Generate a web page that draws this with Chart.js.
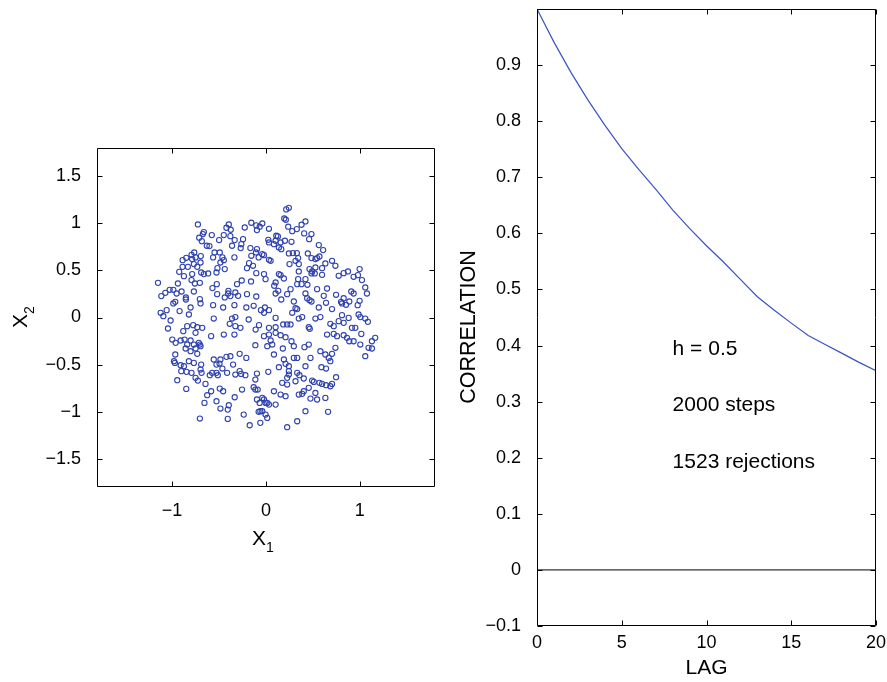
<!DOCTYPE html>
<html>
<head>
<meta charset="utf-8">
<script src="https://cdn.jsdelivr.net/npm/chart.js@4.4.1/dist/chart.umd.min.js"></script>
<style>
  body { margin: 0; background: #fff; }
  #wrap { position: relative; width: 887px; height: 682px; font-family: "Liberation Sans", Arial, Helvetica, sans-serif; }
  canvas { position: absolute; top: 0; }
  .lbl { position: absolute; font-size: 21px; line-height: 30px; height: 30px; color: #000; white-space: nowrap; }
  .lbl sub { font-size: 14px; vertical-align: -7px; line-height: 0; }
</style>
</head>
<body>
<div id="wrap">
  <canvas id="scatterChart" width="440" height="560" style="left:0"></canvas>
  <canvas id="corrChart" width="447" height="682" style="left:440px"></canvas>
  <div class="lbl" style="left:252px; top:523px;">X<sub>1</sub></div>
  <div class="lbl" style="left:0; top:302px; width:40px; text-align:center; transform:rotate(-90deg);">X<sub>2</sub></div>
  <div class="lbl" style="left:368px; top:312px; width:200px; text-align:center; font-size:21.5px; transform:rotate(-90deg);">CORRELATION</div>
</div>
<script>
// Samples (x1, x2)
const samples = [
  [-0.725,0.988],[-0.396,0.988],[-0.421,0.953],[-0.375,0.932],[-0.662,0.907],[-0.672,0.886],[-0.577,0.875],[-0.226,0.956],
  [-0.156,1.006],[-0.103,0.978],[-0.067,0.964],[-0.096,0.928],[-0.711,0.847],[-0.683,0.811],[-0.499,0.822],[-0.449,0.875],
  [-0.379,0.864],[-0.333,0.822],[-0.244,0.832],[-0.262,0.779],[-0.269,0.737],[-0.361,0.762],[-0.630,0.762],[-0.602,0.758],
  [-0.166,0.737],[-0.096,0.726],[-0.106,0.691],[-0.548,0.691],[-0.492,0.691],[-0.563,0.638],[-0.464,0.638],[-0.449,0.609],
  [-0.336,0.638],[-0.764,0.691],[-0.793,0.666],[-0.694,0.652],[-0.750,0.638],[-0.888,0.609],[-0.849,0.634],[-0.786,0.620],
  [-0.078,0.638],[-0.156,0.655],[-0.485,0.584],[-0.697,0.584],[-0.768,0.567],[-0.732,0.538],[-0.832,0.538],[-0.888,0.538],
  [-0.924,0.485],[-0.874,0.439],[-0.786,0.461],[-0.690,0.478],[-0.662,0.461],[-0.616,0.468],[-0.527,0.478],[-0.517,0.524],
  [-0.439,0.514],[-0.180,0.577],[-0.202,0.524],[-0.138,0.549],[-0.103,0.471],[-0.258,0.393],[-0.308,0.354],[-0.159,0.383],
  [-1.150,0.368],[-0.938,0.361],[-0.793,0.397],[-0.757,0.361],[-0.704,0.368],[-0.570,0.312],[-0.524,0.354],[-0.987,0.294],
  [-1.072,0.262],[-1.026,0.294],[-1.115,0.227],[-0.952,0.255],[-0.899,0.276],[-0.768,0.276],[-0.853,0.213],[-0.853,0.191],
  [-0.704,0.195],[-0.400,0.283],[-0.403,0.255],[-0.379,0.227],[-0.326,0.266],[-0.297,0.230],[-0.202,0.248],[-0.103,0.223],
  [-0.520,0.248],[-0.439,0.213],[-0.987,0.149],[-0.966,0.166],[-0.697,0.149],[-0.803,0.106],[-0.563,0.131],[-0.456,0.106],
  [-0.336,0.131],[-0.209,0.106],[-0.131,0.124],[-0.053,0.078],[-1.058,0.078],[-0.920,0.068],
  [0.216,1.148],[0.244,1.165],[0.195,1.052],[0.212,1.038],[0.421,1.020],[0.379,0.985],[0.237,0.964],[0.280,0.917],
  [0.329,0.939],[-0.039,0.999],[0.032,0.942],[0.407,0.893],[0.485,0.886],[0.460,0.832],[0.025,0.825],[0.032,0.797],
  [0.110,0.868],[0.127,0.861],[0.103,0.815],[0.156,0.797],[0.202,0.815],[0.272,0.804],[0.138,0.744],[0.163,0.726],
  [0.085,0.779],[-0.039,0.673],[-0.021,0.662],[0.244,0.680],[0.287,0.684],[0.329,0.684],[0.343,0.631],[0.315,0.602],
  [0.251,0.567],[0.350,0.567],[0.446,0.680],[0.485,0.631],[0.563,0.769],[0.609,0.716],[0.545,0.631],[0.570,0.648],
  [0.527,0.620],[0.633,0.574],[0.704,0.602],[0.740,0.549],[0.032,0.613],[0.050,0.602],[0.464,0.514],[0.492,0.489],
  [0.520,0.468],[0.485,0.468],[0.527,0.531],[0.598,0.524],[0.598,0.453],[0.350,0.489],[0.421,0.407],[0.343,0.407],
  [0.333,0.354],[0.379,0.354],[0.442,0.347],[0.138,0.461],[0.156,0.450],[0.191,0.414],[0.103,0.372],[0.088,0.337],
  [0.131,0.283],[0.103,0.255],[-0.021,0.461],[-0.004,0.407],[0.775,0.443],[0.828,0.471],[0.874,0.489],[0.934,0.432],
  [0.980,0.450],[0.998,0.514],[1.023,0.397],[1.058,0.319],[1.076,0.255],[0.909,0.276],[0.934,0.255],[0.998,0.177],
  [0.977,0.131],[0.747,0.241],[0.800,0.166],[0.828,0.205],[0.810,0.149],[0.888,0.170],[0.853,0.135],[0.651,0.308],
  [0.616,0.230],[0.545,0.301],[0.421,0.255],[0.439,0.205],[0.464,0.184],[0.485,0.170],[0.226,0.248],[0.262,0.301],
  [0.163,0.191],[0.297,0.170],[0.315,0.099],[0.333,0.089],[0.640,0.156],[0.704,0.089],[0.563,0.106],[0.032,0.078],
  [-0.011,0.106],
  [-1.122,0.050],[-1.093,0.014],[-1.016,-0.032],[-1.044,-0.117],[-0.821,0.032],[-0.556,-0.011],[-0.361,-0.011],[-0.326,0.004],
  [-0.386,-0.067],[-0.326,-0.092],[-0.272,-0.110],[-0.184,-0.021],[-0.074,-0.081],[-0.110,-0.128],[-0.881,-0.145],[-0.839,-0.092],
  [-0.775,-0.081],[-0.732,-0.103],[-0.679,-0.110],[-0.750,-0.163],[-0.449,-0.181],[-0.336,-0.181],[-0.584,-0.198],[-0.998,-0.234],
  [-0.962,-0.269],[-0.909,-0.244],[-0.867,-0.234],[-0.803,-0.244],[-0.839,-0.287],[-0.768,-0.287],[-0.715,-0.269],[-0.704,-0.287],
  [-0.697,-0.305],[-0.856,-0.329],[-0.803,-0.358],[-0.732,-0.386],[-0.750,-0.329],[-0.113,-0.294],[-0.966,-0.393],[-0.980,-0.464],
  [-0.970,-0.482],[-0.909,-0.507],[-0.874,-0.517],[-0.821,-0.464],[-0.768,-0.482],[-0.690,-0.500],[-0.556,-0.446],[-0.485,-0.446],
  [-0.421,-0.418],[-0.379,-0.411],[-0.495,-0.489],[-0.527,-0.500],[-0.464,-0.542],[-0.350,-0.500],[-0.280,-0.386],[-0.209,-0.429],
  [-0.902,-0.570],[-0.846,-0.577],[-0.793,-0.588],[-0.697,-0.553],[-0.686,-0.588],[-0.750,-0.641],[-0.725,-0.670],[-0.945,-0.666],
  [-0.644,-0.705],[-0.598,-0.613],[-0.573,-0.588],[-0.527,-0.588],[-0.513,-0.613],[-0.414,-0.588],[-0.326,-0.606],[-0.280,-0.570],
  [-0.265,-0.599],[-0.219,-0.613],[-0.096,-0.595],[-0.113,-0.659],[-0.131,-0.740],[-0.113,-0.765],[-0.088,-0.765],[-0.255,-0.765],
  [-0.849,-0.758],[-0.584,-0.783],[-0.492,-0.755],[-0.456,-0.783],[-0.626,-0.825],[-0.655,-0.907],[-0.527,-0.889],[-0.396,-0.932],
  [-0.407,-0.978],[-0.485,-0.967],[-0.333,-0.847],[-0.096,-0.871],[-0.067,-0.907],[-0.060,-0.995],[-0.078,-1.002],[-0.704,-1.073],
  [-0.407,-1.077],[-0.237,-1.031],[-0.173,-1.144],[-0.060,-1.119],
  [-0.021,0.050],[0.103,-0.004],[0.280,0.050],[0.350,-0.011],[0.386,0.004],[0.527,-0.011],[0.580,0.004],[0.810,0.025],
  [0.881,-0.004],[0.987,0.032],[1.005,0.004],[1.058,-0.011],[1.086,-0.046],[0.184,-0.074],[0.226,-0.074],[0.262,-0.074],
  [0.032,-0.110],[0.103,-0.103],[0.456,-0.103],[0.467,-0.120],[0.686,-0.067],[0.722,-0.092],[0.775,-0.039],[0.828,-0.057],
  [0.916,-0.110],[0.952,-0.110],[0.651,-0.181],[0.722,-0.174],[0.757,-0.198],[0.828,-0.188],[0.863,-0.216],[0.888,-0.252],
  [0.934,-0.252],[1.016,-0.174],[1.129,-0.252],[1.164,-0.216],[1.005,-0.287],[1.093,-0.322],[1.129,-0.329],[1.058,-0.411],
  [-0.021,-0.198],[0.032,-0.181],[0.103,-0.163],[0.156,-0.188],[0.209,-0.209],[0.050,-0.244],[0.014,-0.305],[0.067,-0.287],
  [0.180,-0.329],[0.272,-0.252],[0.297,-0.305],[0.333,-0.429],[0.297,-0.429],[0.410,-0.315],[0.456,-0.287],[0.580,-0.358],
  [0.633,-0.393],[0.669,-0.429],[0.686,-0.464],[0.704,-0.386],[0.740,-0.322],[0.085,-0.393],[0.191,-0.446],[0.209,-0.492],
  [0.244,-0.517],[0.025,-0.577],[0.138,-0.528],[0.244,-0.570],[0.244,-0.606],[0.226,-0.641],[0.173,-0.694],[0.226,-0.712],
  [0.315,-0.677],[0.333,-0.588],[0.357,-0.613],[0.403,-0.648],[0.421,-0.517],[0.474,-0.429],[0.591,-0.528],[0.640,-0.542],
  [0.747,-0.634],[0.492,-0.670],[0.510,-0.684],[0.570,-0.694],[0.598,-0.705],[0.640,-0.719],[0.686,-0.730],[0.704,-0.705],
  [0.456,-0.747],[0.527,-0.801],[0.633,-0.854],[0.545,-0.871],[0.474,-0.861],[0.403,-0.783],[0.386,-0.811],[0.350,-0.818],
  [0.085,-0.783],[0.156,-0.818],[0.209,-0.836],[-0.039,-0.854],[-0.021,-0.871],[-0.004,-0.907],[0.014,-0.907],[0.032,-0.925],
  [0.103,-0.925],[-0.039,-0.995],[-0.004,-1.031],[0.014,-1.066],[0.421,-0.995],[0.333,-1.102],[0.226,-1.165],[0.662,-1.002]
];

// Autocorrelation vs lag (right panel)
const lags = [0, 1, 2, 3, 4, 5, 6, 7, 8, 9, 10, 11, 12, 13, 14, 15, 16, 17, 18, 19, 20];
const correlation = [1.0, 0.941, 0.887, 0.838, 0.793, 0.751, 0.714, 0.679, 0.642, 0.609, 0.578,
                     0.549, 0.518, 0.487, 0.463, 0.440, 0.418, 0.402, 0.386, 0.370, 0.355];
const zeroLine = [0, 0];
const zeroLags = [0, 20];

// Text notes in data coords
const notes = ['h = 0.5', '2000 steps', '1523 rejections'];
const noteLag = 8;
const noteY = [0.4, 0.3, 0.2];

const FONT = '"Liberation Sans", Arial, Helvetica, sans-serif';
const BLUE = '#2f42ae';
Chart.defaults.color = '#000';
Chart.defaults.font.family = FONT;
Chart.defaults.font.size = 18;

function fmt(v) {
    return Number(v.toFixed(1)).toString().replace('-', '\u2212');
}

// box round the plot area with inward ticks on all sides
const boxTicks = {
    id: 'boxTicks',
    afterDraw(chart) {
        const {ctx, chartArea: a, scales} = chart;
        const L = Math.round(a.left) + 0.5, R = Math.round(a.right) - 0.5;
        const T = Math.round(a.top) + 0.5, B = Math.round(a.bottom) - 0.5;
        ctx.save();
        ctx.strokeStyle = '#000';
        ctx.lineWidth = 1;
        ctx.beginPath();
        ctx.rect(L, T, R - L, B - T);
        scales.x.ticks.forEach(t => {
            const px = Math.round(scales.x.getPixelForValue(t.value)) + 0.5;
            ctx.moveTo(px, B); ctx.lineTo(px, B - 5);
            ctx.moveTo(px, T); ctx.lineTo(px, T + 5);
        });
        scales.y.ticks.forEach(t => {
            const py = Math.round(scales.y.getPixelForValue(t.value)) + 0.5;
            ctx.moveTo(L, py); ctx.lineTo(L + 5, py);
            ctx.moveTo(R, py); ctx.lineTo(R - 5, py);
        });
        ctx.stroke();
        ctx.restore();
    }
};

const notesPlugin = {
    id: 'notes',
    afterDatasetsDraw(chart) {
        const {ctx, scales} = chart;
        ctx.save();
        ctx.font = '21px ' + FONT;
        ctx.fillStyle = '#000';
        ctx.textBaseline = 'middle';
        notes.forEach((t, i) => {
            ctx.fillText(t, scales.x.getPixelForValue(noteLag), scales.y.getPixelForValue(noteY[i]) + 4);
        });
        ctx.restore();
    }
};

function axis(min, max, step, pad, extra) {
    return Object.assign({
        type: 'linear',
        min: min,
        max: max,
        grid: { display: false },
        border: { display: false },
        ticks: {
            stepSize: step,
            includeBounds: false,
            autoSkip: false,
            maxRotation: 0,
            padding: pad,
            callback: v => fmt(v)
        }
    }, extra);
}

function fixSize(w, h) {
    return function (scale) {
        if (w !== null) scale.width = w;
        if (h !== null) scale.height = h;
        scale.paddingLeft = 0; scale.paddingRight = 0;
        scale.paddingTop = 0; scale.paddingBottom = 0;
    };
}

// Left: scatter of samples
new Chart(document.getElementById('scatterChart'), {
    type: 'scatter',
    data: {
        datasets: [{
            data: samples.map(p => ({ x: p[0], y: p[1] })),
            pointStyle: 'circle',
            pointRadius: 2.6,
            borderWidth: 1.1,
            borderColor: BLUE,
            backgroundColor: 'rgba(0,0,0,0)'
        }]
    },
    options: {
        responsive: false,
        animation: false,
        layout: { padding: { top: 148, right: 5, left: 0, bottom: 0 } },
        plugins: { legend: { display: false }, tooltip: { enabled: false } },
        scales: {
            x: axis(-1.8, 1.8, 1, 5, { afterFit: fixSize(null, 73) }),
            y: axis(-1.8, 1.8, 0.5, 8, { afterFit: fixSize(97, null) })
        }
    },
    plugins: [boxTicks]
});

// Right: correlation vs lag
const corrX = axis(0, 20, 5, -2, {
    afterFit: fixSize(null, 56),
    title: { display: true, text: 'LAG', font: { size: 21 }, padding: { top: 0, bottom: 1 } }
});
const corrY = axis(-0.1, 1.0, 0.1, 8, { afterFit: fixSize(97, null) });
corrY.ticks.callback = v => (Math.abs(v - 1) < 1e-9 ? '' : fmt(v));

new Chart(document.getElementById('corrChart'), {
    type: 'line',
    data: {
        datasets: [{
            data: lags.map((l, i) => ({ x: l, y: correlation[i] })),
            borderColor: '#3a52c4',
            borderWidth: 1.2,
            pointRadius: 0,
            tension: 0,
            fill: false
        }, {
            data: zeroLags.map((l, i) => ({ x: l, y: zeroLine[i] })),
            borderColor: '#000',
            borderWidth: 1,
            pointRadius: 0,
            fill: false
        }]
    },
    options: {
        responsive: false,
        animation: false,
        layout: { padding: { top: 9, right: 11, left: 0, bottom: 0 } },
        plugins: { legend: { display: false }, tooltip: { enabled: false } },
        scales: { x: corrX, y: corrY }
    },
    plugins: [boxTicks, notesPlugin]
});
</script>
</body>
</html>
